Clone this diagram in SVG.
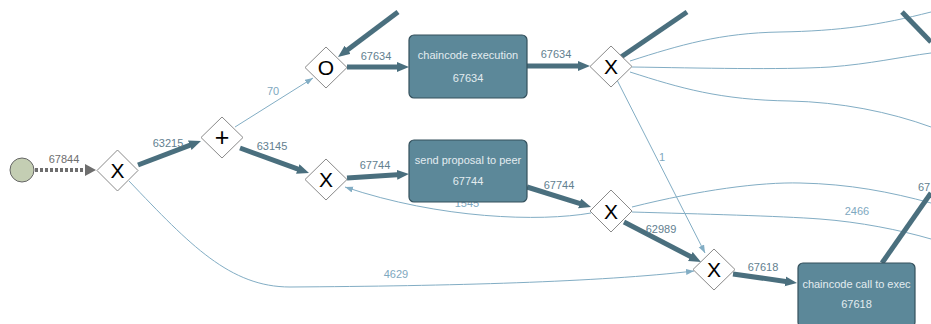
<svg xmlns="http://www.w3.org/2000/svg" width="931" height="324" viewBox="0 0 931 324">
<style>
text{font-family:"Liberation Sans",Arial,sans-serif}
.thick{fill:none;stroke:#4a6f7e;stroke-width:5}
.thin{fill:none;stroke:#82adc4;stroke-width:1}
.lbl{font-size:11px;fill:#62808f;text-anchor:middle}
.lbl2{font-size:11px;fill:#7ea8c0;text-anchor:middle}
.gw{fill:#fff;stroke:#8a8a8a;stroke-width:1}
.sym{font-size:21px;fill:#000;text-anchor:middle}
.task{fill:#5c8899;stroke:#34505c;stroke-width:1.2}
.tt{font-size:11px;fill:#e3ecf0;text-anchor:middle}
</style>
<defs>
<marker id="ah" markerUnits="userSpaceOnUse" markerWidth="13" markerHeight="11" refX="4" refY="5" orient="auto"><path d="M0,0 L12,5 L0,10 z" fill="#4a6f7e"/></marker>
<marker id="at" markerUnits="userSpaceOnUse" markerWidth="9" markerHeight="7" refX="8" refY="3" orient="auto"><path d="M0,0 L8,3 L0,6 z" fill="#82adc4"/></marker>
<marker id="ag" markerUnits="userSpaceOnUse" markerWidth="12" markerHeight="12" refX="3" refY="6" orient="auto"><path d="M0,0 L11,6 L0,12 z" fill="#6e6e6e"/></marker>
</defs>
<rect width="931" height="324" fill="#fff"/>
<g id="connectors">
<path d="M35,170 L88,170" fill="none" stroke="#6e6e6e" stroke-width="4" stroke-dasharray="3,2" marker-end="url(#ag)"/>
<text class="lbl" x="64" y="163" style="fill:#6e6e6e">67844</text>
<path class="thick" d="M138,165 L193.5,143.8" stroke-width="4" marker-end="url(#ah)"/>
<text class="lbl" x="168" y="147">63215</text>
<path class="thick" d="M240,148 L301.5,170.3" marker-end="url(#ah)"/>
<text class="lbl" x="272" y="150">63145</text>
<path class="thin" d="M235,127 L313,78" marker-end="url(#at)"/>
<text class="lbl2" x="273" y="95">70</text>
<path class="thick" d="M398,12 L344.4,52.2" marker-end="url(#ah)"/>
<path class="thick" d="M347,67 L401,67" marker-end="url(#ah)"/>
<text class="lbl" x="376" y="60">67634</text>
<path class="thick" d="M527,66 L582,66" marker-end="url(#ah)"/>
<text class="lbl" x="556" y="58">67634</text>
<path class="thick" d="M347,178 L401,174.5" marker-end="url(#ah)"/>
<text class="lbl" x="375" y="169">67744</text>
<path class="thick" d="M527,187 L583.4,204.6" marker-end="url(#ah)"/>
<text class="lbl" x="559" y="189">67744</text>
<path class="thin" d="M591,213 C540,222 440,219 345,187" marker-end="url(#at)"/>
<text class="lbl2" x="467" y="207">1545</text>
<path class="thick" d="M621,57 L687,12"/>
<path class="thin" d="M630,61 C680,45 720,33 780,32 C840,31 880,25 931,12"/>
<path class="thin" d="M632,67 C700,68 780,70 830,67 C870,64 900,57 931,53"/>
<path class="thin" d="M630,72 C680,88 720,100 790,101 C840,102 890,112 931,127"/>
<path class="thin" d="M617,80 L705,253" marker-end="url(#at)"/>
<text class="lbl2" x="662" y="161">1</text>
<path class="thin" d="M632,207 C700,190 760,182 800,183 C850,184 890,192 931,203"/>
<path class="thin" d="M632,212 C700,214 780,216 820,219 C860,222 900,230 931,239"/>
<text class="lbl2" x="857" y="215">2466</text>
<path class="thick" d="M624,222 L693.9,258.3" marker-end="url(#ah)"/>
<text class="lbl" x="661" y="233">62989</text>
<path class="thin" d="M129,181 C190,245 230,287 290,287 C450,286 600,282 694,271" marker-end="url(#at)"/>
<text class="lbl2" x="396" y="278">4629</text>
<path class="thick" d="M733,274 L789.1,281.9" marker-end="url(#ah)"/>
<text class="lbl" x="763" y="271">67618</text>
<path class="thick" d="M882,263 L931,193"/>
<text class="lbl" x="918" y="191" style="text-anchor:start">67</text>
<path class="thick" d="M902,12 L931,42" stroke-width="4"/>
</g>
<g id="start"><circle cx="22" cy="170" r="12" fill="#c4ceb3" stroke="#666" stroke-width="1"/></g>
<g id="gw1"><path class="gw" d="M117.5,150 L138,170.5 L117.5,191 L97,170.5 z"/><text class="sym" x="117.5" y="178">X</text></g>
<g id="gw2"><path class="gw" d="M222,117 L243,137.5 L222,158 L201,137.5 z"/><text class="sym" x="222" y="146" style="font-size:25px">+</text></g>
<g id="gw3"><path class="gw" d="M326,47 L347,67.5 L326,88 L305,67.5 z"/><text class="sym" x="326" y="75">O</text></g>
<g id="gw4"><path class="gw" d="M326,159 L347,179.5 L326,200 L305,179.5 z"/><text class="sym" x="326" y="187">X</text></g>
<g id="gw5"><path class="gw" d="M611,46 L632,66.5 L611,87 L590,66.5 z"/><text class="sym" x="611" y="74">X</text></g>
<g id="gw6"><path class="gw" d="M611,190 L632,211 L611,232 L590,211 z"/><text class="sym" x="611" y="218.5">X</text></g>
<g id="gw7"><path class="gw" d="M714,249 L735,269.5 L714,290 L693,269.5 z"/><text class="sym" x="714" y="277">X</text></g>
<g id="task1"><rect class="task" x="409" y="35" width="118" height="63" rx="5"/><text class="tt" x="468" y="59">chaincode execution</text><text class="tt" x="468" y="82">67634</text></g>
<g id="task2"><rect class="task" x="409" y="140" width="118" height="62" rx="5"/><text class="tt" x="468" y="164">send proposal to peer</text><text class="tt" x="468" y="185">67744</text></g>
<g id="task3"><rect class="task" x="798" y="263" width="117" height="64" rx="5"/><text class="tt" x="856.5" y="288">chaincode call to exec</text><text class="tt" x="856.5" y="308">67618</text></g>
</svg>
